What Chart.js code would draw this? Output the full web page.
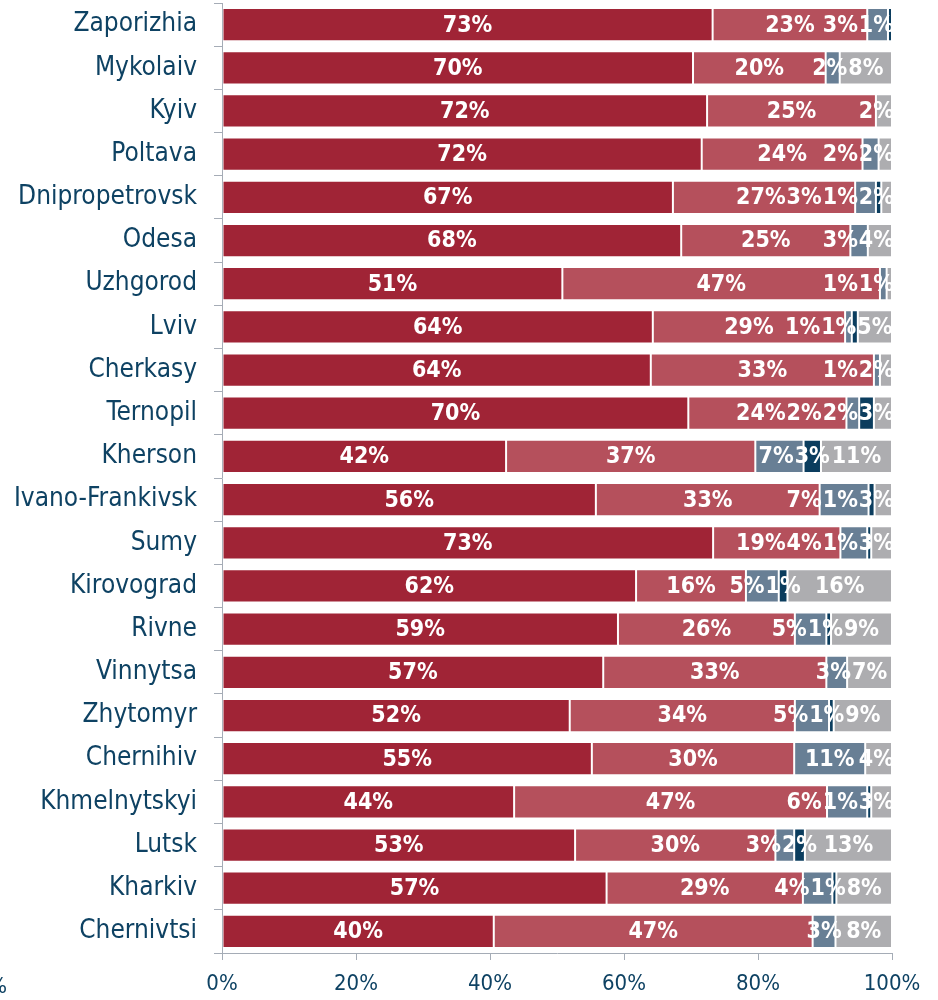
<!DOCTYPE html>
<html>
<head>
<meta charset="utf-8">
<script src="https://cdn.jsdelivr.net/npm/chart.js@4.4.1/dist/chart.umd.min.js"></script>
<style>
  html, body { margin: 0; padding: 0; background: #ffffff; }
  #wrap { width: 938px; height: 1000px; position: relative; }
</style>
</head>
<body>
<div id="wrap"><canvas id="c" width="938" height="1000"></canvas></div>
<script>
// ---- DATA ----
const categories = ['Zaporizhia','Mykolaiv','Kyiv','Poltava','Dnipropetrovsk','Odesa','Uzhgorod','Lviv','Cherkasy','Ternopil','Kherson','Ivano-Frankivsk','Sumy','Kirovograd','Rivne','Vinnytsa','Zhytomyr','Chernihiv','Khmelnytskyi','Lutsk','Kharkiv','Chernivtsi'];
const series1 = [73.3,70.3,72.4,71.6,67.3,68.4,50.8,64.3,64.0,69.6,42.4,55.8,73.3,61.8,59.1,56.9,51.9,55.2,43.6,52.7,57.4,40.4];
const series2 = [23.1,19.8,25.2,24.0,27.2,25.2,47.4,28.7,33.3,23.6,37.2,33.4,19.0,16.4,26.4,33.3,33.6,30.2,46.7,29.9,29.3,47.4];
const series3 = [3.1,2.1,0,2.4,3.1,2.6,1.0,1.0,0.9,1.9,7.2,7.3,4.0,4.9,4.7,3.1,5.1,10.6,6.0,2.8,4.4,3.4];
const series4 = [0.6,0,0,0,0.8,0,0,0.9,0,2.2,2.6,0.9,0.6,1.3,0.7,0,0.7,0,0.6,1.6,0.6,0];
const series5 = [0,7.8,2.4,2.0,1.6,3.6,0.8,5.1,1.8,2.7,10.6,2.6,3.1,15.6,9.1,6.7,8.7,4.0,3.1,13.0,8.3,8.4];
const xTicks = [0,20,40,60,80,100];

const seriesList = [series1, series2, series3, series4, series5];
const colors = ['#a02436', '#b5505c', '#687f95', '#0b3d5e', '#adadb0'];
const textColor = '#0e4263';
const axisColor = '#a5acb6';

// ---- font selection ----
const mctx = document.createElement('canvas').getContext('2d');
function w(font, txt){ mctx.font = font; return mctx.measureText(txt).width; }
let family = '"DejaVu Sans Condensed"';
if (Math.abs(w('40px "DejaVu Sans Condensed", monospace','Zaporizhia') - w('40px monospace','Zaporizhia')) < 0.5) {
  family = '"DejaVu Sans"';
}
const catSizeF = Math.min(26, Math.max(18, Math.round(122 / w('100px ' + family, 'Zaporizhia') * 100)));
const tickSizeF = Math.min(26, Math.max(16, Math.round(57 / w('100px ' + family, '100%') * 100)));
const lblSizeF = Math.min(26, Math.max(16, Math.round(50 / w('bold 100px ' + family, '73%') * 100)));
const famPlain = family.replace(/"/g,'');

// normalized (100% stacked) values for plotting
const totals = categories.map((_, i) => seriesList.reduce((s, arr) => s + arr[i], 0));
const datasets = seriesList.map((arr, k) => ({
  label: 'S' + (k + 1),
  data: arr.map((v, i) => v / totals[i] * 100),
  raw: arr,
  backgroundColor: colors[k],
  borderColor: 'rgba(255,255,255,0.35)',
  borderWidth: 1,
  borderSkipped: false,
  barPercentage: 0.77,
  categoryPercentage: 1.0
}));

const labelPlugin = {
  id: 'segLabels',
  afterDatasetsDraw(chart) {
    const ctx = chart.ctx;
    const area = chart.chartArea;
    ctx.save();
    ctx.font = 'bold ' + lblSizeF + 'px ' + family;
    ctx.fillStyle = '#ffffff';
    ctx.textAlign = 'center';
    ctx.textBaseline = 'middle';
    for (let i = 0; i < categories.length; i++) {
      const items = [];
      chart.data.datasets.forEach((ds, d) => {
        const v = ds.raw[i];
        if (!v) return;
        const el = chart.getDatasetMeta(d).data[i];
        const p = el.getProps(['x', 'base', 'y'], true);
        const txt = Math.round(v) + '%';
        const tw = ctx.measureText(txt).width;
        items.push({ txt, tw, cx: (p.x + p.base) / 2, y: p.y });
      });
      // keep inside the right edge and avoid overlaps, packing right to left
      const n = items.length;
      if (n) {
        const last = items[n - 1];
        if (last.cx + last.tw / 2 > area.right + 2) last.cx = area.right + 2 - last.tw / 2;
        for (let k = n - 2; k >= 0; k--) {
          const a = items[k], b = items[k + 1];
          const limit = b.cx - b.tw / 2 - 1;
          if (a.cx + a.tw / 2 > limit) a.cx = limit - a.tw / 2;
        }
      }
      items.forEach(it => ctx.fillText(it.txt, it.cx, it.y + 1));
    }
    ctx.restore();
  },
  afterDraw(chart) {
    const ctx = chart.ctx;
    ctx.save();
    ctx.font = tickSizeF + 'px ' + family;
    ctx.fillStyle = textColor;
    ctx.textAlign = 'right';
    ctx.textBaseline = 'middle';
    ctx.fillText('%', 7, 987);
    ctx.restore();
  }
};

new Chart(document.getElementById('c'), {
  type: 'bar',
  data: { labels: categories, datasets },
  options: {
    indexAxis: 'y',
    responsive: false,
    animation: false,
    layout: { padding: { top: 3, right: 46, left: 0, bottom: 0 } },
    plugins: { legend: { display: false }, tooltip: { enabled: false } },
    scales: {
      x: {
        stacked: true,
        min: 0, max: 100,
        afterBuildTicks(scale) { scale.ticks = xTicks.map(v => ({ value: v })); },
        afterFit(scale) { scale.height = 47; scale.paddingLeft = 0; scale.paddingRight = 0; },
        grid: { drawOnChartArea: false, drawTicks: true, tickLength: 7, color: axisColor, lineWidth: 1 },
        border: { display: true, color: axisColor, width: 1 },
        ticks: {
          callback: v => v + '%',
          color: textColor,
          font: { family: famPlain, size: tickSizeF },
          padding: 11,
          maxRotation: 0
        }
      },
      y: {
        stacked: true,
        afterFit(scale) { scale.width = 222; scale.paddingTop = 0; scale.paddingBottom = 0; },
        grid: { offset: true, drawOnChartArea: false, drawTicks: true, tickLength: 8, color: axisColor, lineWidth: 1 },
        border: { display: true, color: axisColor, width: 1 },
        ticks: {
          color: textColor,
          font: { family: famPlain, size: catSizeF },
          padding: 17,
          autoSkip: false
        }
      }
    }
  },
  plugins: [labelPlugin]
});
</script>
</body>
</html>
